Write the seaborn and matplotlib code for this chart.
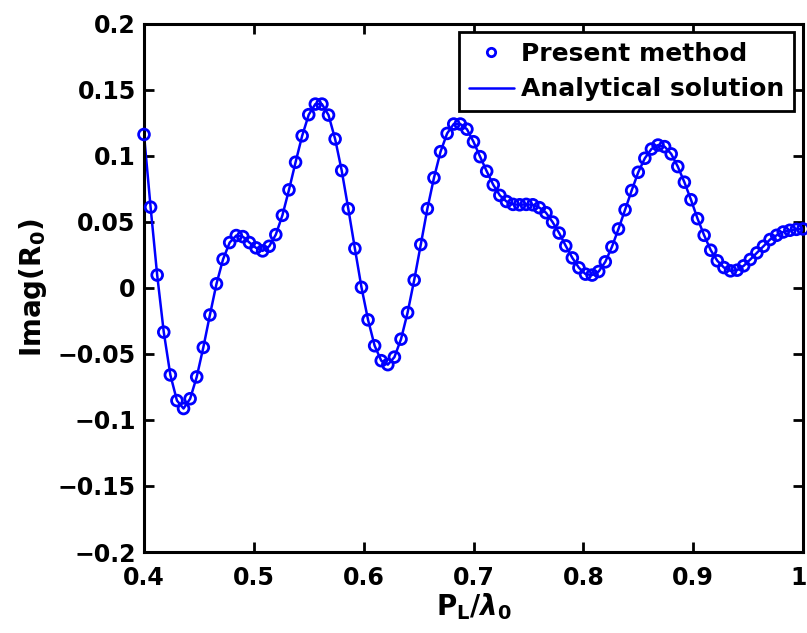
import numpy as np
import pandas as pd
import matplotlib
matplotlib.use("Agg")
import matplotlib.pyplot as plt
import matplotlib.transforms as mtransforms
import seaborn as sns
from matplotlib.lines import Line2D

# ---- data ----
pl_over_lambda = np.round(np.arange(101) * 0.006 + 0.4, 3)
imag_r0 = [
    0.116, 0.061, 0.0096, -0.0336, -0.066, -0.0854, -0.0914, -0.084, -0.0675, -0.0452,
    -0.0206, 0.003, 0.0216, 0.0342, 0.0395, 0.0387, 0.0342, 0.0302, 0.0279, 0.0314,
    0.0402, 0.0548, 0.0741, 0.095, 0.115, 0.131, 0.139, 0.139, 0.1307, 0.1126,
    0.0887, 0.0598, 0.0297, 0.0003, -0.0243, -0.0439, -0.0552, -0.0582, -0.0525, -0.0389,
    -0.0188, 0.0058, 0.0327, 0.0598, 0.0832, 0.103, 0.1168, 0.1239, 0.1239, 0.120,
    0.1105, 0.0992, 0.0882, 0.0779, 0.0699, 0.0653, 0.0631, 0.0628, 0.0631, 0.0628,
    0.0606, 0.0568, 0.0497, 0.0414, 0.0317, 0.0226, 0.0151, 0.0103, 0.0096, 0.0123,
    0.0196, 0.0309, 0.0445, 0.059, 0.0736, 0.0874, 0.098, 0.105, 0.108, 0.1068,
    0.1013, 0.0917, 0.0799, 0.0666, 0.0523, 0.0397, 0.0284, 0.0204, 0.0153, 0.0128,
    0.0133, 0.0166, 0.0214, 0.0264, 0.0314, 0.0365, 0.0397, 0.0422, 0.0435, 0.0442,
    0.0445,
]
x_ticks = [0.4, 0.5, 0.6, 0.7, 0.8, 0.9, 1.0]
x_tick_labels = ["0.4", "0.5", "0.6", "0.7", "0.8", "0.9", "1"]
y_ticks = [-0.2, -0.15, -0.1, -0.05, 0, 0.05, 0.1, 0.15, 0.2]
y_tick_labels = ["\u22120.2", "\u22120.15", "\u22120.1", "\u22120.05", "0", "0.05", "0.1", "0.15", "0.2"]
series_names = ["Present method", "Analytical solution"]

df = pd.DataFrame({"x": pl_over_lambda, "y": imag_r0})

sns.set_style("ticks")
plt.rcParams["font.family"] = ["DejaVu Sans"]
plt.rcParams["font.weight"] = "bold"
plt.rcParams["mathtext.fontset"] = "dejavusans"
plt.rcParams["text.color"] = "black"
plt.rcParams["axes.labelcolor"] = "black"
plt.rcParams["xtick.color"] = "black"
plt.rcParams["ytick.color"] = "black"

fig = plt.figure(figsize=(8.07, 6.33), dpi=100)
ax = fig.add_axes([144 / 807, 1 - 552 / 633, (803 - 144) / 807, (552 - 23.5) / 633])

blue = (0, 0, 1)
sns.lineplot(data=df, x="x", y="y", ax=ax, color=blue, linewidth=1.8, legend=False)
sns.scatterplot(data=df, x="x", y="y", ax=ax, marker="o", s=60, facecolors="none",
                edgecolor=blue, linewidth=2.0, legend=False, zorder=3, clip_on=False)

ax.set_xlim(0.4, 1.0)
ax.set_ylim(-0.2, 0.2)
ax.set_xticks(x_ticks)
ax.set_xticklabels(x_tick_labels)
ax.set_yticks(y_ticks)
ax.set_yticklabels(y_tick_labels)
ax.tick_params(direction="in", length=7, width=2, labelsize=17, top=True, right=True,
               pad=6, colors="black")
ax.tick_params(axis="x", pad=10)
for lbl in ax.get_xticklabels() + ax.get_yticklabels():
    lbl.set_fontweight("bold")
    lbl.set_color("black")
for sp in ax.spines.values():
    sp.set_linewidth(2.2)
    sp.set_color("black")

ax.set_xlabel(r"$\mathbf{P_L}/\lambda_\mathbf{0}$", fontsize=20, labelpad=1, color="black")
ax.set_ylabel(r"$\mathbf{Imag(R_0)}$", fontsize=20, labelpad=6, color="black")

handles = [
    Line2D([], [], linestyle="none", marker="o", markersize=6, markerfacecolor="none",
           markeredgecolor=blue, markeredgewidth=2),
    Line2D([], [], color=blue, linewidth=1.8),
]
leg = ax.legend(handles, series_names, loc="upper right",
                bbox_to_anchor=(794 / 807, 1 - 32 / 633), bbox_transform=fig.transFigure,
                borderaxespad=0, frameon=True, fancybox=False,
                prop={"weight": "bold", "size": 18}, handlelength=1.8, handletextpad=0.28,
                borderpad=0.4, labelspacing=0.45)
leg.get_frame().set_edgecolor("black")
leg.get_frame().set_linewidth(2)
leg.get_frame().set_alpha(1)
for t in leg.get_texts():
    t.set_color("black")

# nudge the last x tick label ("1") so it stays inside the figure, as in the reference
fig.canvas.draw()
last = ax.get_xticklabels()[-1]
last.set_transform(last.get_transform() +
                   mtransforms.ScaledTranslation(-4 / 100, 0, fig.dpi_scale_trans))

fig.savefig("out.png", dpi=100)
